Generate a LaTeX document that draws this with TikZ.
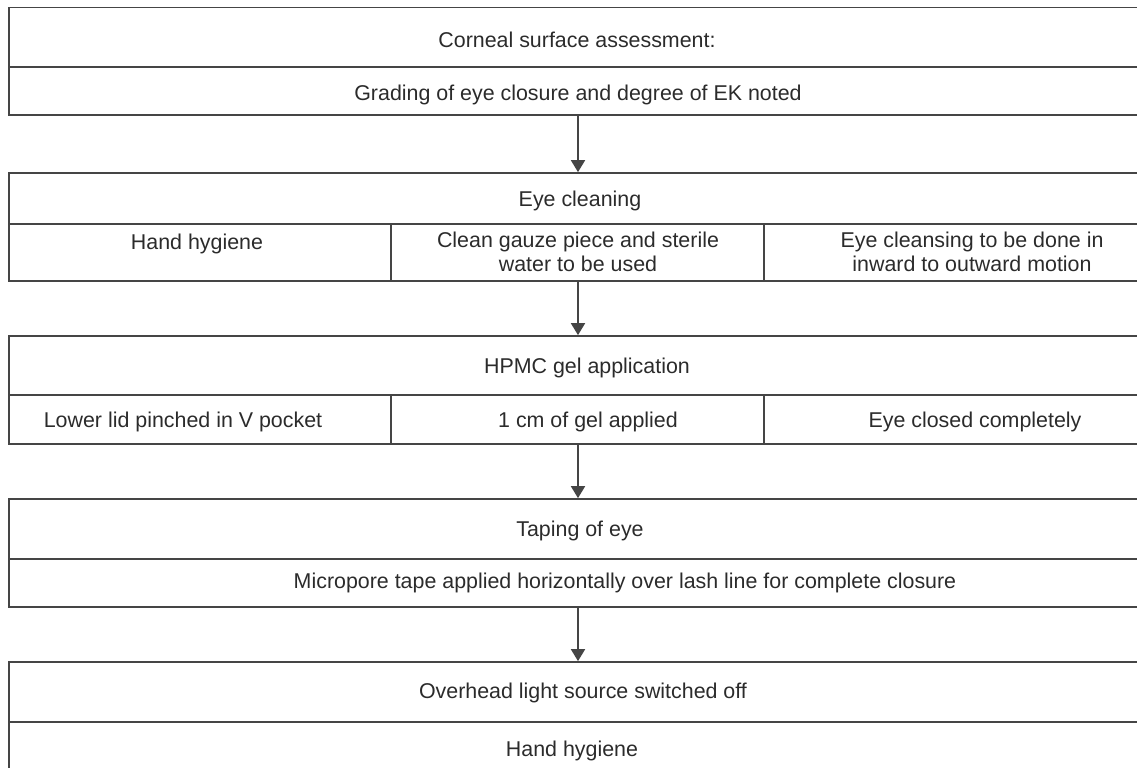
\documentclass[tikz,border=0pt]{standalone}
\usepackage{fontspec}
\setmainfont{Liberation Sans}
\usetikzlibrary{arrows.meta,fit}
\definecolor{ink}{HTML}{2B2B2B}
\definecolor{rule}{HTML}{454545}
\tikzset{
  cellbox/.style={draw=rule, line width=0.85pt, inner sep=0pt, fit=#1},
  txt/.style={text=ink, font=\fontsize{10.7pt}{11.6pt}\selectfont, inner sep=0pt, align=center, anchor=base},
  arr/.style={draw=rule, line width=0.85pt, -{Triangle[width=7pt,length=6pt]}}
}
\begin{document}
\begin{tikzpicture}[x=0.5pt,y=-0.5pt]
\useasboundingbox (0,0) rectangle (1137,767);
\clip (0,0) rectangle (1137,767);
% corner coordinates
\coordinate (ax) at (578,0);
% block 1
\coordinate (a1) at (9,7.5);  \coordinate (a2) at (1160,67);
\coordinate (a3) at (9,67);   \coordinate (a4) at (1160,115);
\node[cellbox={(a1)(a2)}] (b1r1) {};
\node[cellbox={(a3)(a4)}] (b1r2) {};
% block 2
\coordinate (c1) at (9,173);  \coordinate (c2) at (1160,224);
\coordinate (c3) at (9,224);  \coordinate (c4) at (391,281);
\coordinate (c5) at (391,224);\coordinate (c6) at (764,281);
\coordinate (c7) at (764,224);\coordinate (c8) at (1160,281);
\node[cellbox={(c1)(c2)}] (b2r1) {};
\node[cellbox={(c3)(c4)}] (b2a) {};
\node[cellbox={(c5)(c6)}] (b2b) {};
\node[cellbox={(c7)(c8)}] (b2c) {};
% block 3
\coordinate (d1) at (9,336);  \coordinate (d2) at (1160,395);
\coordinate (d3) at (9,395);  \coordinate (d4) at (391,444);
\coordinate (d5) at (391,395);\coordinate (d6) at (764,444);
\coordinate (d7) at (764,395);\coordinate (d8) at (1160,444);
\node[cellbox={(d1)(d2)}] (b3r1) {};
\node[cellbox={(d3)(d4)}] (b3a) {};
\node[cellbox={(d5)(d6)}] (b3b) {};
\node[cellbox={(d7)(d8)}] (b3c) {};
% block 4
\coordinate (e1) at (9,499);  \coordinate (e2) at (1160,559);
\coordinate (e3) at (9,559);  \coordinate (e4) at (1160,607);
\node[cellbox={(e1)(e2)}] (b4r1) {};
\node[cellbox={(e3)(e4)}] (b4r2) {};
% block 5
\coordinate (f1) at (9,662);  \coordinate (f2) at (1160,722);
\coordinate (f3) at (9,722);  \coordinate (f4) at (1160,790);
\node[cellbox={(f1)(f2)}] (b5r1) {};
\node[cellbox={(f3)(f4)}] (b5r2) {};
% texts
\node[txt] (t1) at (577,47) {Corneal surface assessment:};
\node[txt] (t2) at (578,100) {Grading of eye closure and degree of EK noted};
\node[txt] (t3) at (580,206) {Eye cleaning};
\node[txt] (t4) at (197,249) {Hand hygiene};
\node[txt, anchor=north] (t5) at (578,232) {Clean gauze piece and sterile\\water to be used};
\node[txt, anchor=north] (t6) at (972,232) {Eye cleansing to be done in\\inward to outward motion};
\node[txt] (t7) at (587,373) {HPMC gel application};
\node[txt] (t8) at (183,427) {Lower lid pinched in V pocket};
\node[txt] (t9) at (588,427) {1 cm of gel applied};
\node[txt] (t10) at (975,427) {Eye closed completely};
\node[txt] (t11) at (580,536) {Taping of eye};
\node[txt] (t12) at (625,588) {Micropore tape applied horizontally over lash line for complete closure};
\node[txt] (t13) at (583,698) {Overhead light source switched off};
\node[txt] (t14) at (572,756) {Hand hygiene};
% arrows
\draw[arr] (b1r2.south -| ax) -- (b2r1.north -| ax);
\draw[arr] (b2b.south -| ax) -- (b3r1.north -| ax);
\draw[arr] (b3b.south -| ax) -- (b4r1.north -| ax);
\draw[arr] (b4r2.south -| ax) -- (b5r1.north -| ax);
\end{tikzpicture}
\end{document}
